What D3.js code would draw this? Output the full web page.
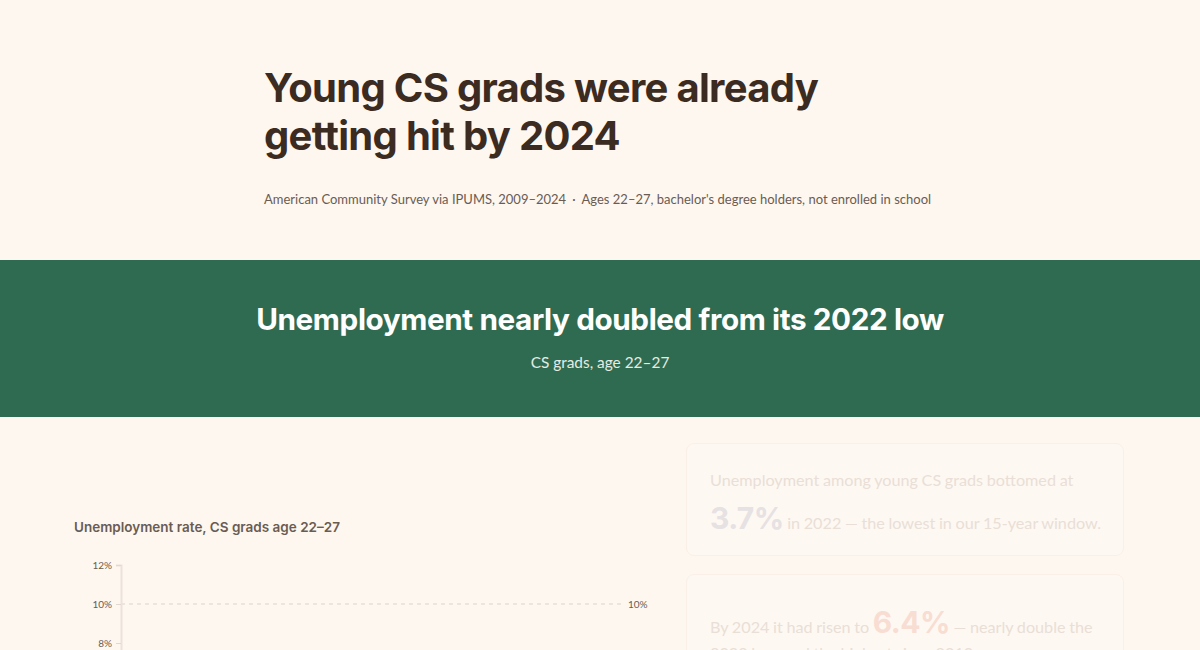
<!DOCTYPE html>
<html>
<head>
<meta charset="utf-8">
<script src="https://cdn.jsdelivr.net/npm/d3@7"></script>
<style>
  html, body { margin: 0; padding: 0; }
  body { width: 1200px; height: 650px; overflow: hidden; background: #fef7f0; font-family: Lato, "Noto Sans", sans-serif; color: #3b2b21; position: relative; }
  .head { position: absolute; left: 264px; top: 0; }
  .head h1 { position: absolute; left: 0; top: 64px; margin: 0; width: 640px; font-family: Inter, sans-serif; font-weight: 700; font-size: 40px; line-height: 48px; letter-spacing: -0.7px; color: #3b2b21; }
  .head .meta { position: absolute; left: 0; top: 191px; white-space: nowrap; font-size: 13px; color: #6a5c52; }
  .head .meta .dot { margin: 0 6px; }
  .band { position: absolute; left: 0; top: 260px; width: 1200px; height: 157px; background: #2f6b51; text-align: center; color: #fff; }
  .band .t { position: absolute; left: 0; width: 1200px; top: 39px; font-family: Inter, sans-serif; font-weight: 700; font-size: 29.7px; letter-spacing: -0.4px; line-height: 40px; }
  .band .s { position: absolute; left: 0; width: 1200px; top: 93px; font-size: 15.4px; color: #e4ece6; }
  .card { position: absolute; left: 686px; width: 438px; border: 1px solid #fbf0e8; border-radius: 8px; background: #fef8f2; box-sizing: border-box; font-size: 16.2px; color: #e9dfd7; white-space: nowrap; }
  .card .ln { position: absolute; left: 23px; line-height: 20px; word-spacing: -0.5px; }
  .card .big { font-family: Inter, sans-serif; font-weight: 700; font-size: 30px; letter-spacing: -0.6px; word-spacing: 0; }
  #c1 { top: 443px; height: 113px; }
  #c1 .big { color: #e6e1e3; }
  #c2 { top: 574px; height: 120px; }
  #c2 .big { color: #f8ddd3; }
  svg { position: absolute; left: 0; top: 500px; }
</style>
</head>
<body>
<div class="head">
  <h1>Young CS grads were already getting hit by 2024</h1>
  <div class="meta">American Community Survey via IPUMS, 2009–2024<span class="dot">·</span>Ages 22–27, bachelor's degree holders, not enrolled in school</div>
</div>
<div class="band">
  <div class="t">Unemployment nearly doubled from its 2022 low</div>
  <div class="s">CS grads, age 22–27</div>
</div>
<div class="card" id="c1">
  <div class="ln" style="top:26px">Unemployment among young CS grads bottomed at</div>
  <div class="ln" style="top:64px"><span class="big">3.7%</span> in 2022 — the lowest in our 15-year window.</div>
</div>
<div class="card" id="c2">
  <div class="ln" style="top:37px">By 2024 it had risen to <span class="big">6.4%</span> — nearly double the</div>
  <div class="ln" style="top:68px">2022 low, and the highest since 2010.</div>
</div>
<svg id="chart" width="680" height="300"></svg>
<script>
// CS grads age 22-27, unemployment rate (%) by year
const years = [2009, 2010, 2011, 2012, 2013, 2014, 2015, 2016, 2017, 2018, 2019, 2020, 2021, 2022, 2023, 2024];
const rates = [6.2, 7.1, 6.3, 5.9, 5.4, 5.0, 4.6, 4.4, 4.2, 4.0, 3.9, 6.1, 4.5, 3.7, 4.9, 6.4];
const yTicks = [0, 2, 4, 6, 8, 10, 12];
const refLine = 10;

const svg = d3.select('#chart');
const margin = {left: 121, top: 65};
const width = 500;
const height = 234;

const g = svg.append('g')
    .attr('transform', 'translate(' + margin.left + ',' + margin.top + ')');

svg.append('text')
    .attr('x', 74).attr('y', 32)
    .attr('font-family', 'Inter, sans-serif')
    .attr('font-weight', 600)
    .attr('font-size', 13.5)
    .attr('fill', '#6a5c52')
    .text('Unemployment rate, CS grads age 22–27');

const x = d3.scaleLinear().domain([d3.min(years), d3.max(years)]).range([0, width]);
const y = d3.scaleLinear().domain([0, 12]).range([height, 0]);

// reference line
g.append('line')
    .attr('x1', 0).attr('x2', width)
    .attr('y1', y(refLine)).attr('y2', y(refLine))
    .attr('stroke', '#ddd3cb')
    .attr('stroke-dasharray', '4,4');
g.append('text')
    .attr('x', width + 7).attr('y', y(refLine))
    .attr('dy', '0.35em')
    .attr('font-size', 10)
    .attr('fill', '#6a5c52')
    .text(refLine + '%');

const yAxis = g.append('g')
    .call(d3.axisLeft(y).tickValues(yTicks).tickFormat(d => d + '%').tickSize(5).tickPadding(4));
yAxis.select('.domain').attr('stroke', '#ebe2da').attr('stroke-width', 2);
yAxis.selectAll('.tick line').attr('stroke', '#e2d8d0');
yAxis.selectAll('.tick text').attr('fill', '#6a5c52').attr('font-size', 10).attr('font-family', 'Lato, sans-serif');

g.append('path')
    .datum(years.map((yr, i) => ({yr: yr, v: rates[i]})))
    .attr('fill', 'none')
    .attr('stroke', '#2f6b51')
    .attr('stroke-width', 2.5)
    .attr('d', d3.line().x(d => x(d.yr)).y(d => y(d.v)));
</script>
</body>
</html>
